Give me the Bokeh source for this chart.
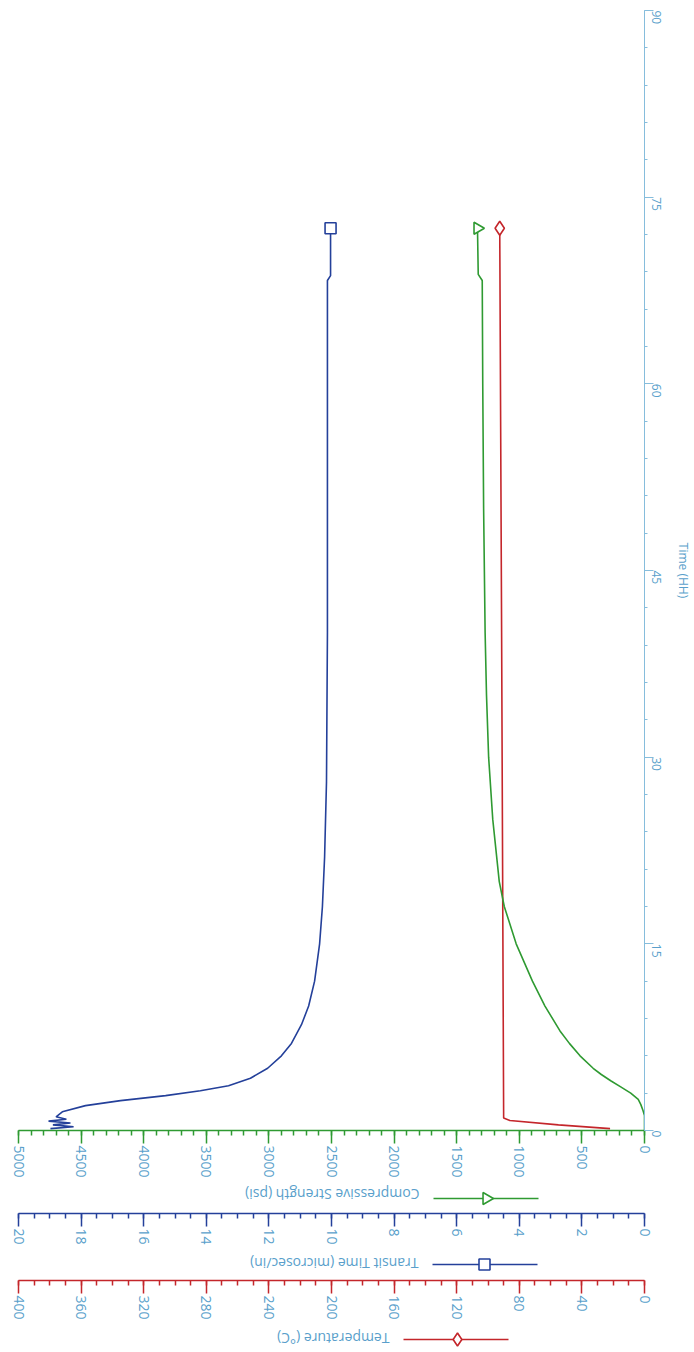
import math
from bokeh.plotting import figure
from bokeh.models import Range1d, LinearAxis, SingleIntervalTicker
from bokeh.layouts import column
from bokeh.core.properties import value
from bokeh.embed import file_html
from bokeh.resources import INLINE

# ---------------- data ----------------
# Time (h)
cs_time = [0.0, 1.2, 1.6, 2.1, 2.5, 3.0, 3.5, 4.0, 4.5, 5.0, 6.0, 7.0, 8.0, 10.0, 12.0, 15.0,
           18.0, 20.0, 25.0, 30.0, 35.0, 40.0, 50.0, 60.0, 68.3, 68.8, 72.5]
# Compressive Strength (psi)
cs_psi = [0, 0, 12, 30, 50, 110, 190, 270, 345, 410, 515, 600, 675, 795, 895, 1025,
          1120, 1160, 1212, 1245, 1262, 1273, 1285, 1292, 1296, 1328, 1334]

tt_time = [0.15, 0.3, 0.45, 0.6, 0.75, 0.9, 1.1, 1.5, 2.0, 2.4, 2.8, 3.2, 3.6, 4.2, 5.0,
           6.0, 7.0, 8.5, 10.0, 12.0, 15.0, 18.0, 22.0, 28.0, 40.0, 68.3, 68.7, 72.5]
# Transit Time (microsec/in)
tt_val = [18.98, 18.24, 18.90, 18.34, 19.04, 18.47, 18.80, 18.60, 17.86, 16.74, 15.30,
          14.19, 13.29, 12.59, 12.04, 11.60, 11.28, 10.96, 10.73, 10.54, 10.38, 10.29,
          10.22, 10.16, 10.13, 10.13, 10.03, 10.03]

temp_time = [0.15, 0.45, 0.8, 1.0, 10.0, 40.0, 72.5]
# Temperature (degC)
temp_val = [22.0, 55.0, 86.0, 90.0, 90.3, 91.3, 92.5]

cs_label = "Compressive Strength (psi)"
tt_label = "Transit Time (microsec/in)"
temp_label = "Temperature (\u00b0C)"
time_label = "Time (HH)"

# ---------------- styles ----------------
GREEN = "#2f9a32"
BLUE = "#24409a"
RED = "#c4262b"
TXT = "#5a9fcb"
TIME_AX = "#86bddc"
FONT = "Open Sans"

W = 694
FRAME_W = 626
LB, RB = 18, 50


def style_bottom_axis(ax, color, interval, nminor):
    ax.ticker = SingleIntervalTicker(interval=interval, num_minor_ticks=nminor)
    ax.axis_line_color = color
    ax.axis_line_width = 1.5
    ax.major_tick_line_color = color
    ax.minor_tick_line_color = color
    ax.major_tick_line_width = 1.5
    ax.minor_tick_line_width = 1.5
    ax.major_tick_in = 0
    ax.major_tick_out = 13
    ax.minor_tick_in = 0
    ax.minor_tick_out = 5
    ax.major_label_orientation = -math.pi / 2
    ax.major_label_standoff = 2
    ax.major_label_text_color = TXT
    ax.major_label_text_font = FONT
    ax.major_label_text_font_size = "14px"


def blank(fig):
    fig.outline_line_color = None
    fig.grid.visible = False
    fig.background_fill_color = "white"
    fig.border_fill_color = "white"


# ---------------- main figure ----------------
pA = figure(width=W, height=1180, x_range=Range1d(5000, 0), y_range=Range1d(0, 90),
            output_backend="svg", toolbar_location=None,
            x_axis_location=None, y_axis_location=None,
            min_border=0, min_border_left=LB, min_border_right=RB,
            min_border_top=10, min_border_bottom=50)
blank(pA)
pA.extra_x_ranges = {"transit": Range1d(20, 0), "temp": Range1d(400, 0)}

tax = LinearAxis(axis_label=time_label)
tax.ticker = SingleIntervalTicker(interval=15, num_minor_ticks=5)
tax.axis_line_color = TIME_AX
tax.major_tick_line_color = TIME_AX
tax.minor_tick_line_color = TIME_AX
tax.major_tick_in = 0
tax.major_tick_out = 9
tax.minor_tick_in = 0
tax.minor_tick_out = 3
tax.major_label_orientation = -math.pi / 2
tax.major_label_standoff = 3
tax.major_label_text_color = TXT
tax.major_label_text_font = FONT
tax.major_label_text_font_size = "12px"
tax.axis_label_text_color = TXT
tax.axis_label_text_font = FONT
tax.axis_label_text_font_style = "normal"
tax.axis_label_text_font_size = "12px"
tax.axis_label_standoff = 6
pA.add_layout(tax, "right")

cax = LinearAxis()
style_bottom_axis(cax, GREEN, 500, 5)
pA.add_layout(cax, "below")

pA.line(temp_val, temp_time, x_range_name="temp", line_color=RED, line_width=1.6)
pA.line(cs_psi, cs_time, line_color=GREEN, line_width=1.6)
pA.line(tt_val, tt_time, x_range_name="transit", line_color=BLUE, line_width=1.6)

pA.scatter([temp_val[-1]], [temp_time[-1]], x_range_name="temp", marker="diamond",
           size=14, fill_color="white", line_color=RED, line_width=1.6)
pA.scatter([cs_psi[-1]], [cs_time[-1]], marker="triangle", angle=-math.pi / 2,
           size=12, fill_color="white", line_color=GREEN, line_width=1.6)
pA.scatter([tt_val[-1]], [tt_time[-1]], x_range_name="transit", marker="square",
           size=11, fill_color="white", line_color=BLUE, line_width=1.6)


def legend_fig(height, frame_h, bottom):
    f = figure(width=W, height=height, x_range=Range1d(0, FRAME_W), y_range=Range1d(0, frame_h),
               output_backend="svg", toolbar_location=None,
               x_axis_location=None, y_axis_location=None,
               min_border=0, min_border_left=LB, min_border_right=RB,
               min_border_top=0, min_border_bottom=bottom)
    blank(f)
    return f


def legend_entry(f, text, ty, lx0, lx1, ly, mx, marker, color, angle=0.0, size=12):
    f.text(x=[lx0 - 14], y=[ty], text=[text], angle=math.pi, text_align="left",
           text_baseline="middle", text_font=value(FONT), text_font_size="14px",
           text_color=TXT)
    f.line([lx0, lx1], [ly, ly], line_color=color, line_width=1.5)
    f.scatter([mx], [ly], marker=marker, angle=angle, size=size, fill_color="white",
              line_color=color, line_width=1.6)


# Fig B: compressive legend + transit axis
pB = legend_fig(68, 33, 35)
pB.extra_x_ranges = {"transit": Range1d(20, 0)}
legend_entry(pB, cs_label, 19, 415, 520, 15, 468, "triangle", GREEN, angle=-math.pi / 2)
bax = LinearAxis(x_range_name="transit")
style_bottom_axis(bax, BLUE, 2, 4)
pB.add_layout(bax, "below")

# Fig C: transit legend + temperature axis
pC = legend_fig(74, 32, 42)
pC.extra_x_ranges = {"temp": Range1d(400, 0)}
legend_entry(pC, tt_label, 17, 414, 519, 16, 466, "square", BLUE, size=11)
rax = LinearAxis(x_range_name="temp")
style_bottom_axis(rax, RED, 40, 4)
pC.add_layout(rax, "below")

# Fig D: temperature legend
pD = legend_fig(28, 28, 0)
legend_entry(pD, temp_label, 12, 385, 490, 11, 439, "diamond", RED, size=13)

layout = column(pA, pB, pC, pD, spacing=0)
open("out.html", "w").write(file_html(layout, INLINE))
